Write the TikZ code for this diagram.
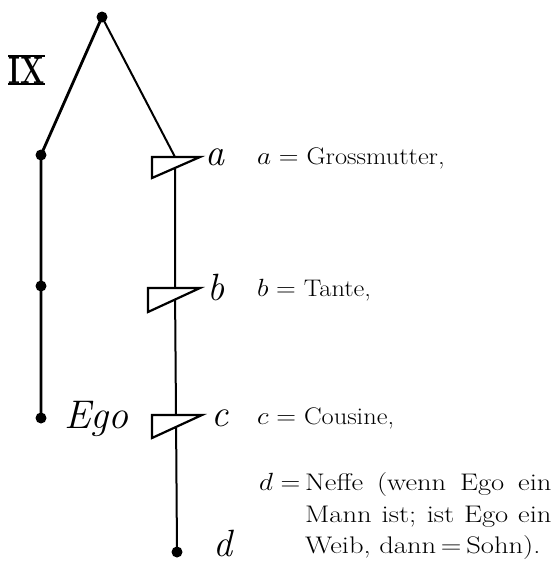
\documentclass[tikz,border=0pt]{standalone}
\newcommand{\scriptfnt}{\itshape}
\newcommand{\wide}[1]{\scalebox{1.1}[1]{#1}}
\newcommand{\wider}[1]{\scalebox{1.19}[1]{#1}}
\begin{document}
\begin{tikzpicture}[x=1pt,y=-1pt,
  dot/.style={circle,fill=black,inner sep=0pt,minimum size=11pt},
  pt/.style={inner sep=0pt,minimum size=0pt},
  stroke/.style={line width=2.8pt},
  thin stroke/.style={line width=2pt},
  tri/.style={line width=2.2pt,fill=white,line join=miter},
  lett/.style={anchor=base west,inner sep=0pt,font=\scriptfnt\fontsize{38}{38}\selectfont},
  lab/.style={anchor=base west,inner sep=0pt,font=\fontsize{24}{28}\selectfont}]
\useasboundingbox (0,0) rectangle (552,571);
% nodes
\node[dot] (top) at (102,17) {};
\node[dot] (l1) at (41,155) {};
\node[dot] (l2) at (41,286) {};
\node[dot] (l3) at (41,418) {};
\node[pt] (ra) at (175,157) {};
\node[pt] (rb) at (175,288) {};
\node[pt] (rc) at (176,415) {};
\node[dot] (rd) at (177,552) {};
% lines
\draw[stroke] (top.center) -- (l1.center) -- (l2.center) -- (l3.center);
\draw[thin stroke] (top.center) -- (ra.center);
\draw[thin stroke] (ra.center) -- (rb.center) -- (rc.center) -- (rd.center);
% triangles
\draw[tri] (152,157) -- (200,157) -- (152,178) -- cycle;
\draw[tri] (148,288) -- (200,288) -- (148,312) -- cycle;
\draw[tri] (152,415) -- (202,415) -- (152,438) -- cycle;
% script letters
\node[lett] (sa) at (205,165) {a};
\node[lett] (sb) at (207,300) {b};
\node[lett] (sc) at (211,426) {c};
\node[lett] (sd) at (213,556) {d};
\node[lett,font=\scriptfnt\fontsize{40}{40}\selectfont] (ego) at (64,428) {Ego};
% roman numeral
\node[anchor=base west,inner sep=0pt,font=\bfseries\fontsize{38}{38}\selectfont] (ix) at (8,83) {\scalebox{0.75}[1]{IX}};
\draw[line width=2pt] (ix.north west) ++(0,-0.5) coordinate (ixa) -- (ixa -| ix.east);
\draw[line width=2pt] (ix.base west) ++(0,0.5) coordinate (ixb) -- (ixb -| ix.east);
% labels
\node[lab] (ta) at (257,164) {\wide{$a=$\ Grossmutter,}};
\node[lab] (tb) at (257,296) {\wide{$b=$\ Tante,}};
\node[lab] (tc) at (257,424) {\wide{$c=$\ Cousine,}};
\node[lab] (td) at (259,490) {\wide{$d=$}};
\node[lab] (td1) at (305,490) {\wider{\hbox to 207pt{Neffe (wenn Ego ein}}};
\node[lab] (td2) at (305,522) {\wider{\hbox to 207pt{Mann ist; ist Ego ein}}};
\node[lab] (td3) at (305,553) {\wider{Weib, dann\,=\,Sohn).}};
\end{tikzpicture}
\end{document}
